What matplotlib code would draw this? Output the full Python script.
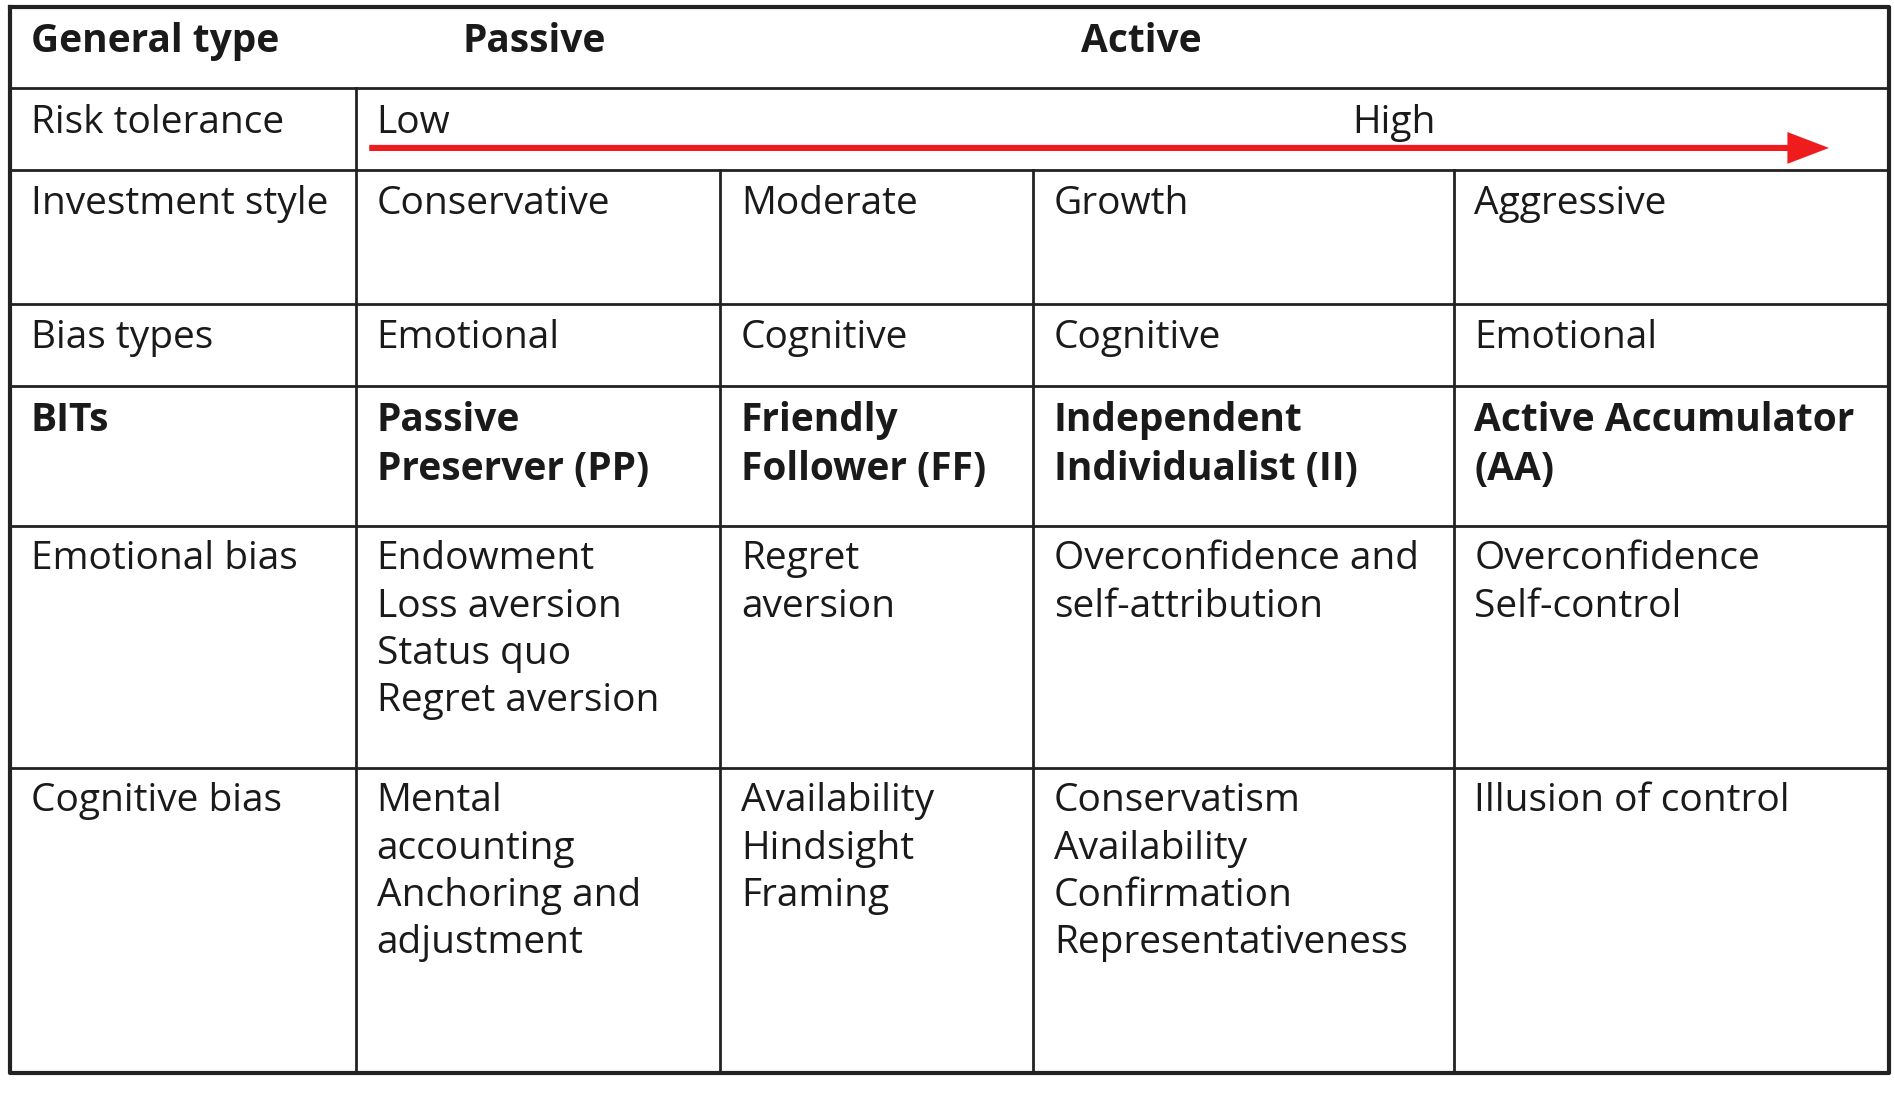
import matplotlib.pyplot as plt
from matplotlib.patches import FancyArrow

W, H = 1550, 894  # layout units (reference scaled)

row_labels = ["Investment style", "Bias types", "BITs", "Emotional bias", "Cognitive bias"]
styles = ["Conservative", "Moderate", "Growth", "Aggressive"]
bias_types = ["Emotional", "Cognitive", "Cognitive", "Emotional"]
bits = ["Passive\nPreserver (PP)", "Friendly\nFollower (FF)", "Independent\nIndividualist (II)",
        "Active Accumulator\n(AA)"]
emotional = ["Endowment\nLoss aversion\nStatus quo\nRegret aversion", "Regret\naversion",
             "Overconfidence and\nself-attribution", "Overconfidence\nSelf-control"]
cognitive = ["Mental\naccounting\nAnchoring and\nadjustment", "Availability\nHindsight\nFraming",
             "Conservatism\nAvailability\nConfirmation\nRepresentativeness", "Illusion of control"]

xs = [8, 291, 589, 845, 1189, 1545]
ys = [6, 72, 139, 249, 316, 430, 628, 878]

plt.rcParams['font.family'] = ['Open Sans', 'DejaVu Sans']
fig = plt.figure(figsize=(18.95, 10.93), dpi=100)
ax = fig.add_axes([0, 0, 1, 1])
ax.set_xlim(0, W)
ax.set_ylim(H, 0)
ax.axis('off')

lc = '#222222'
# outer border
ax.plot([xs[0], xs[-1], xs[-1], xs[0], xs[0]], [ys[0], ys[0], ys[-1], ys[-1], ys[0]], color=lc, lw=3)
for y in ys[1:-1]:
    ax.plot([xs[0], xs[-1]], [y, y], color=lc, lw=2)
ax.plot([xs[1], xs[1]], [ys[1], ys[-1]], color=lc, lw=2)
for x in xs[2:-1]:
    ax.plot([x, x], [ys[2], ys[-1]], color=lc, lw=2)

fs = 28
kw = dict(fontsize=fs, va='top', ha='left', linespacing=1.32, color='#1a1a1a')
ax.text(25, 18, "General type", fontweight='bold', **kw)
ax.text(378, 18, "Passive", fontweight='bold', **kw)
ax.text(884, 18, "Active", fontweight='bold', **kw)
ax.text(25, 85, "Risk tolerance", **kw)
ax.text(308, 85, "Low", **kw)
ax.text(1106, 85, "High", **kw)
ax.add_patch(FancyArrow(302, 121, 1160, 0, width=5, head_width=26, head_length=34,
                        length_includes_head=False, color='#ee1c1c', lw=0))

rows = [styles, bias_types, bits, emotional, cognitive]
for r, (lab, vals) in enumerate(zip(row_labels, rows)):
    top = ys[r + 2] + 12
    bold = 'bold' if lab == "BITs" else 'normal'
    ax.text(25, top, lab, fontweight=bold, **kw)
    for c, v in enumerate(vals):
        ax.text(xs[c + 1] + 17, top, v, fontweight=bold, **kw)

fig.savefig('out.png', dpi=100)
